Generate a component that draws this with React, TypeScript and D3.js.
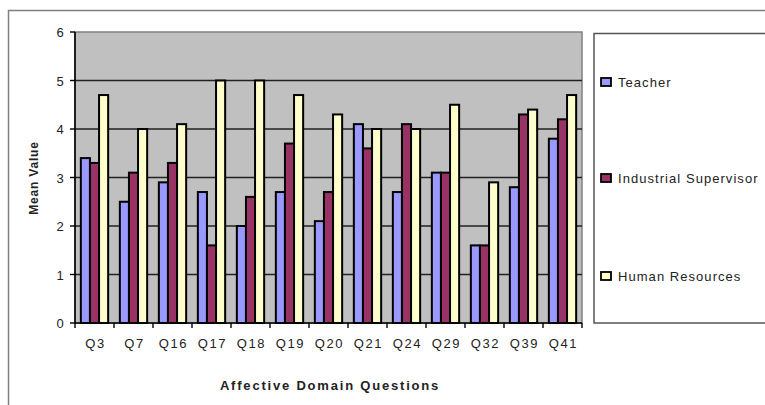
import React from 'react';
import * as d3 from 'd3';

const categories = ['Q3', 'Q7', 'Q16', 'Q17', 'Q18', 'Q19', 'Q20', 'Q21', 'Q24', 'Q29', 'Q32', 'Q39', 'Q41'];
const seriesNames = ['Teacher', 'Industrial Supervisor', 'Human Resources'];
const teacher = [3.4, 2.5, 2.9, 2.7, 2.0, 2.7, 2.1, 4.1, 2.7, 3.1, 1.6, 2.8, 3.8];
const supervisor = [3.3, 3.1, 3.3, 1.6, 2.6, 3.7, 2.7, 3.6, 4.1, 3.1, 1.6, 4.3, 4.2];
const humanResources = [4.7, 4.0, 4.1, 5.0, 5.0, 4.7, 4.3, 4.0, 4.0, 4.5, 2.9, 4.4, 4.7];
const yTicks = [0, 1, 2, 3, 4, 5, 6];
const colors = ['#9999FF', '#993366', '#FFFFCC'];

const series = [teacher, supervisor, humanResources];

const left = 75;
const right = 582;
const top = 32;
const bottom = 323;
const font = 'Liberation Sans, Arial, sans-serif';

const App: React.FC = () => {
    const x = d3.scaleBand<string>().domain(categories).range([left, right]).paddingInner(0.3).paddingOuter(0.15);
    const x1 = d3.scaleBand<number>().domain([0, 1, 2]).range([0, x.bandwidth()]);
    const y = d3.scaleLinear().domain([0, 6]).range([bottom, top]);
    const step = (right - left) / categories.length;

    const legendY = [82, 178, 276];

    return (
        <svg width={765} height={405} style={{ position: 'absolute', left: 0, top: 0 }}>
            <rect x={0} y={0} width={765} height={405} fill="#fff" />
            {/* outer frame */}
            <rect x={8.5} y={10.5} width={800} height={450} fill="none" stroke="#808080" strokeWidth={1.5} />
            {/* plot area */}
            <rect x={left} y={top} width={right - left} height={bottom - top} fill="#C0C0C0" stroke="#808080" strokeWidth={1.5} />
            {yTicks.filter(t => t > 0 && t < 6).map(t => (
                <line key={t} x1={left} x2={right} y1={y(t)} y2={y(t)} stroke="#222" strokeWidth={1.4} />
            ))}
            {/* bars */}
            {categories.map((c, i) => (
                <g key={c}>
                    {series.map((s, j) => (
                        <rect key={j}
                            x={(x(c) as number) + (x1(j) as number)}
                            y={y(s[i])}
                            width={x1.bandwidth()}
                            height={y(0) - y(s[i])}
                            fill={colors[j]} stroke="#000" strokeWidth={2} />
                    ))}
                </g>
            ))}
            {/* axes */}
            <line x1={left} x2={left} y1={top} y2={bottom} stroke="#000" strokeWidth={1.6} />
            <line x1={left} x2={right} y1={bottom} y2={bottom} stroke="#000" strokeWidth={1.6} />
            {yTicks.map(t => (
                <g key={t}>
                    <line x1={left - 5} x2={left} y1={y(t)} y2={y(t)} stroke="#000" strokeWidth={1.4} />
                    <text x={left - 15} y={y(t) + 5} fontSize={13} fontFamily={font} textAnchor="middle" fill="#222">{t}</text>
                </g>
            ))}
            {d3.range(categories.length + 1).map(i => (
                <line key={i} x1={left + i * step} x2={left + i * step} y1={bottom} y2={bottom + 5} stroke="#000" strokeWidth={1.4} />
            ))}
            {categories.map(c => (
                <text key={c} x={(x(c) as number) + x.bandwidth() / 2 + 1} y={348} fontSize={13} letterSpacing={1.6} fontFamily={font} textAnchor="middle" fill="#222">{c}</text>
            ))}
            <text x={330} y={390} fontSize={13} letterSpacing={1.8} fontWeight="bold" fontFamily={font} textAnchor="middle" fill="#222">Affective Domain Questions</text>
            <text transform={`translate(38,178) rotate(-90)`} fontSize={12} letterSpacing={0.8} fontWeight="bold" fontFamily={font} textAnchor="middle" fill="#222">Mean Value</text>
            {/* legend */}
            <rect x={594} y={33.5} width={200} height={289.5} fill="#fff" stroke="#555" strokeWidth={1.5} />
            {seriesNames.map((n, j) => (
                <g key={n}>
                    <rect x={601} y={legendY[j] - 4} width={10} height={8} fill={colors[j]} stroke="#000" strokeWidth={1.8} />
                    <text x={618} y={legendY[j] + 4.5} fontSize={13} letterSpacing={1.05} fontFamily={font} fill="#222">{n}</text>
                </g>
            ))}
        </svg>
    );
};

export default App;
